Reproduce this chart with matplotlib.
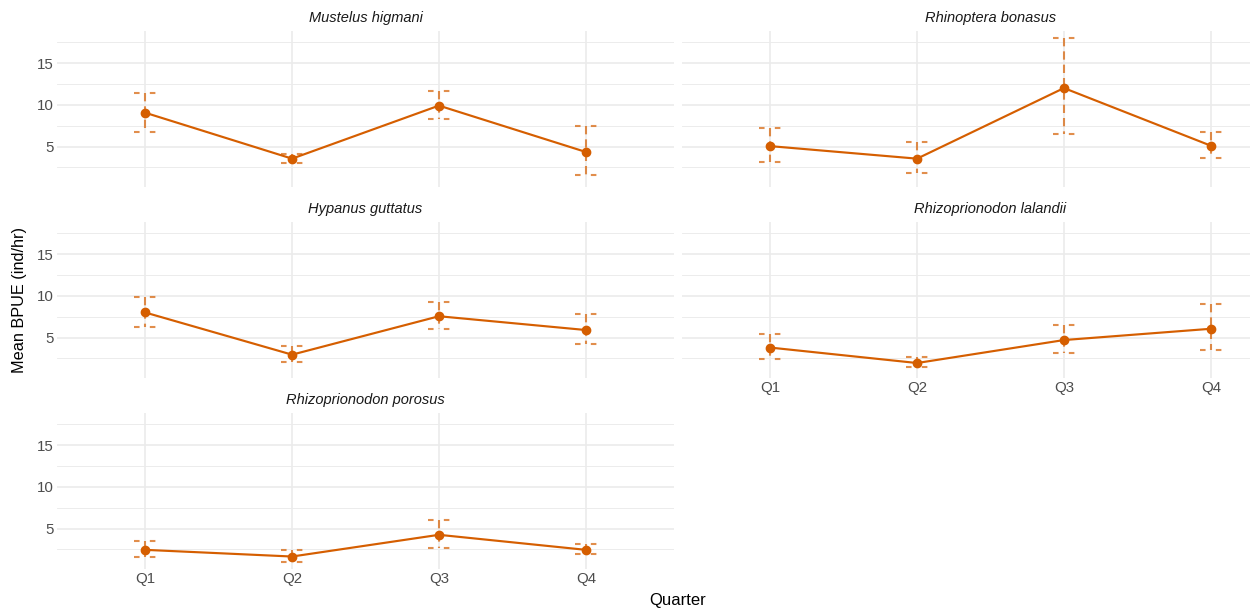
import matplotlib
matplotlib.use("Agg")
import matplotlib.pyplot as plt

plt.rcParams["font.family"] = ["Liberation Sans", "DejaVu Sans"]
plt.rcParams["lines.scale_dashes"] = False

quarters = ["Q1", "Q2", "Q3", "Q4"]
species = [
    "Mustelus higmani",
    "Rhinoptera bonasus",
    "Hypanus guttatus",
    "Rhizoprionodon lalandii",
    "Rhizoprionodon porosus",
]

# Mean BPUE per quarter with lower / upper interval bounds
mustelus_mean = [9.05, 3.55, 9.9, 4.35]
mustelus_low = [6.8, 3.0, 8.25, 1.6]
mustelus_high = [11.45, 4.1, 11.65, 7.45]

rhinoptera_mean = [5.05, 3.55, 12.0, 5.1]
rhinoptera_low = [3.1, 1.8, 6.55, 3.6]
rhinoptera_high = [7.2, 5.5, 17.95, 6.75]

hypanus_mean = [8.0, 2.95, 7.55, 5.9]
hypanus_low = [6.25, 2.1, 6.05, 4.25]
hypanus_high = [9.85, 3.95, 9.25, 7.8]

lalandii_mean = [3.8, 1.95, 4.7, 6.05]
lalandii_low = [2.4, 1.45, 3.15, 3.5]
lalandii_high = [5.4, 2.65, 6.5, 9.0]

porosus_mean = [2.45, 1.65, 4.25, 2.45]
porosus_low = [1.55, 1.05, 2.65, 1.95]
porosus_high = [3.55, 2.45, 6.05, 3.15]

means = [mustelus_mean, rhinoptera_mean, hypanus_mean, lalandii_mean, porosus_mean]
lows = [mustelus_low, rhinoptera_low, hypanus_low, lalandii_low, porosus_low]
highs = [mustelus_high, rhinoptera_high, hypanus_high, lalandii_high, porosus_high]

W, H = 1250, 612
fig = plt.figure(figsize=(W / 100, H / 100), dpi=100)
fig.patch.set_facecolor("white")

col_x = [57, 682]
panel_w = 617
row_top = [31.3, 222.3, 413.3]
panel_h = 155.3

all_lo = min(min(v) for v in lows)
all_hi = max(max(v) for v in highs)
span = all_hi - all_lo
ylim = (all_lo - 0.05 * span, all_hi + 0.05 * span)

orange = "#D55E00"
grid_col = "#EBEBEB"
x = list(range(len(quarters)))
cap_half = 0.075

for i, name in enumerate(species):
    r, c = divmod(i, 2)
    left = col_x[c]
    top = row_top[r]
    ax = fig.add_axes([left / W, 1 - (top + panel_h) / H, panel_w / W, panel_h / H])
    ax.set_xlim(-0.6, 3.6)
    ax.set_ylim(*ylim)
    for s in ax.spines.values():
        s.set_visible(False)

    # background grid
    for yv in [2.5, 7.5, 12.5, 17.5]:
        ax.axhline(yv, color=grid_col, lw=0.65, zorder=0)
    for yv in [5, 10, 15]:
        ax.axhline(yv, color=grid_col, lw=1.2, zorder=0)
    for xv in x:
        ax.axvline(xv, color=grid_col, lw=1.2, zorder=0)

    m, lo, hi = means[i], lows[i], highs[i]
    for xi, l, h in zip(x, lo, hi):
        ax.plot([xi, xi], [h, l], color=orange, alpha=0.7, lw=1.5,
                linestyle=(0, (6.0, 3.6)), solid_capstyle="butt",
                dash_capstyle="butt", zorder=2)
        for yv in (l, h):
            ax.plot([xi - cap_half, xi + cap_half], [yv, yv], color=orange,
                    alpha=0.7, lw=1.5, linestyle=(0, (4.0, 7.4)),
                    dash_capstyle="butt", zorder=2)
    ax.plot(x, m, color=orange, lw=1.55, marker="o", ms=6, zorder=3)

    ax.set_xticks(x)
    ax.set_yticks([5, 10, 15])
    ax.tick_params(length=0, pad=2.7, labelsize=10.8, labelcolor="#4D4D4D")
    show_x = (r == 2) or (r == 1 and c == 1)
    if show_x:
        ax.set_xticklabels(quarters)
    else:
        ax.set_xticklabels([])
    if c == 0:
        ax.set_yticklabels(["5", "10", "15"])
    else:
        ax.set_yticklabels([])

    ax.text(0.5, 1 + 13.0 / panel_h, name, transform=ax.transAxes,
            ha="center", va="center", style="italic", fontsize=10.5,
            color="#1A1A1A")

fig.text(678 / W, 1 - 601 / H, "Quarter", ha="center", va="center",
         fontsize=12, color="black")
fig.text(20 / W, 1 - 300 / H, "Mean BPUE (ind/hr)", ha="center", va="center",
         rotation=90, fontsize=11.7, color="black")

fig.savefig("out.png", dpi=100, facecolor="white")
